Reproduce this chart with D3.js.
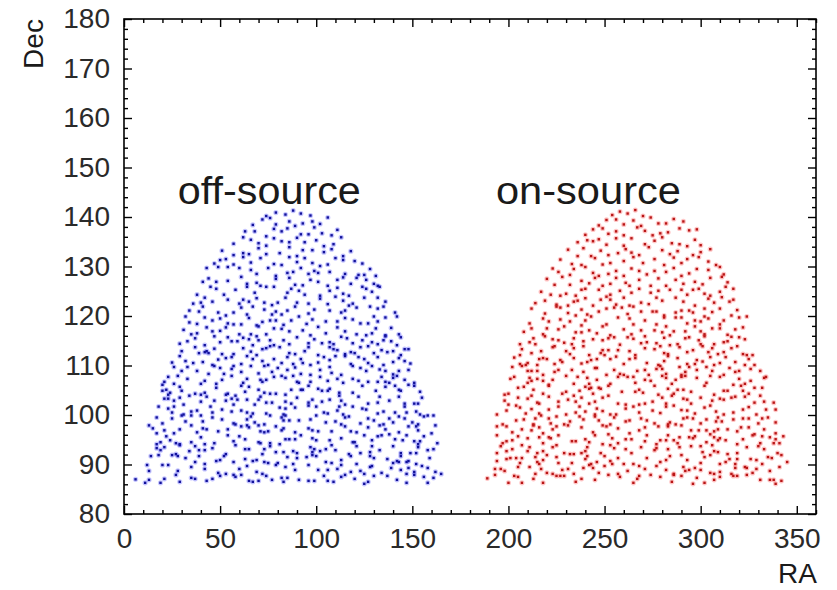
<!DOCTYPE html>
<html>
<head>
<meta charset="utf-8">
<script src="https://cdn.jsdelivr.net/npm/d3@7/dist/d3.min.js"></script>
<style>
  body { margin: 0; background: #fff; }
  text { font-family: "Liberation Sans", Arial, Helvetica, sans-serif; }
</style>
</head>
<body>
<svg id="svg" width="837" height="590"></svg>
<script>
// event positions as "RA,Dec" pairs, one line per 2 deg strip of Dec
var offSource = `
6,87.0 11,86.3 13,86.9 19,86.3 21,87.1 27,87.9 29,86.5 35,87.3 37,87.1 43,86.7 46,87.1 50,87.7 57,87.9 58,87.5 61,87.9 65,86.7 67,86.5 70,86.7 74,87.7 77,86.9 82,87.3 83,86.5 85,87.3 91,86.9 96,86.7 99,86.7 104,87.7 106,86.7 109,86.5 113,87.5 115,87.9 120,87.1 125,86.1 127,86.5 130,87.7 137,87.7 142,86.9 147,86.3 151,87.9 156,87.5 158,86.3 161,87.3
12,89.9 13,88.7 20,89.9 23,89.9 28,88.7 35,89.5 42,89.1 49,88.3 53,88.1 60,89.1 64,89.7 69,88.5 72,88.1 79,89.9 84,89.5 89,88.9 96,89.9 101,88.9 106,88.9 111,89.1 113,89.9 118,88.5 123,88.7 125,88.1 128,89.5 129,89.7 134,88.3 139,89.3 144,88.9 147,88.1 148,89.3 151,88.5 155,89.7 158,89.3 162,88.5 165,88.1
14,91.7 18,91.9 25,91.9 28,91.7 32,91.3 37,90.5 39,91.7 42,90.1 48,90.7 50,90.9 52,91.7 57,90.5 63,91.1 67,90.7 69,90.9 73,90.5 75,90.3 80,90.3 85,91.5 88,90.1 90,91.3 95,91.5 98,91.9 100,91.7 105,90.5 108,90.3 113,90.9 118,91.7 121,90.1 128,91.7 130,91.3 137,91.1 140,90.3 142,90.7 143,90.5 144,91.7 147,90.5 148,90.7 152,90.1 159,91.3
17,93.3 19,92.9 21,93.5 27,92.1 29,93.9 34,92.7 37,93.7 39,92.9 42,92.9 46,93.3 53,92.1 58,93.9 63,93.1 65,93.1 72,92.1 73,93.1 76,93.7 79,92.5 83,92.5 88,92.7 90,92.3 97,93.5 98,92.5 99,93.1 102,92.7 105,93.1 108,93.9 110,92.9 117,92.1 121,93.7 123,92.3 128,92.5 129,93.7 133,92.9 140,93.7 144,92.3 149,92.3 152,92.3 153,93.5 158,92.9 161,93.1
17,94.1 19,94.5 22,95.7 24,94.9 27,94.3 29,94.1 35,94.5 40,95.5 42,94.1 47,94.3 54,95.9 57,94.7 60,95.7 63,95.1 70,94.5 71,94.3 76,94.3 81,94.1 84,95.1 86,95.1 89,95.1 92,95.9 98,95.3 100,94.9 107,94.9 113,95.3 119,94.5 120,94.5 125,95.9 129,94.9 132,95.7 134,95.9 141,95.1 145,94.9 147,95.9 151,94.7 153,94.1 154,94.7 156,95.7 163,94.3
13,97.9 15,97.3 17,96.3 21,96.9 26,96.3 29,97.1 35,97.9 38,96.5 41,97.3 43,97.1 49,96.7 54,97.1 61,97.7 64,97.9 65,97.5 70,97.9 71,96.7 73,96.5 75,96.7 79,97.7 82,96.9 83,97.3 89,96.5 96,97.3 98,96.9 101,96.7 108,96.7 115,97.7 118,96.7 121,96.5 127,97.5 133,97.9 136,97.1 138,96.1 143,96.5 148,97.7 152,97.7 153,96.9 160,96.3 162,97.9
17,99.5 20,98.3 25,99.3 30,99.9 32,98.7 35,99.9 40,99.9 41,98.7 46,99.5 51,99.1 57,98.3 58,98.1 64,99.1 66,99.7 68,98.5 73,98.1 76,99.9 82,99.5 83,98.9 84,99.9 86,98.9 91,98.9 97,99.1 100,99.9 105,98.5 110,98.7 113,98.1 115,99.5 117,99.7 123,98.3 127,99.3 130,98.9 135,98.1 138,99.3 140,98.5 143,99.7 146,99.3 150,98.5 153,98.1 156,99.7 158,99.9 161,99.9
18,101.7 23,101.3 25,100.5 26,101.7 31,100.1 35,100.7 38,100.9 45,101.7 46,100.5 51,101.1 56,100.7 61,100.9 64,100.5 67,100.3 74,100.3 81,101.5 83,100.1 84,101.3 89,101.5 96,101.9 100,101.7 104,100.5 106,100.3 111,100.9 112,101.7 114,100.1 119,101.7 124,101.3 126,101.1 132,100.3 135,100.7 141,100.5 146,101.7 147,100.5 152,100.7 154,100.1
21,103.3 23,103.3 26,102.9 29,103.5 31,102.1 34,103.9 40,102.7 43,103.7 47,102.9 53,102.9 56,103.3 57,102.1 58,103.9 59,103.1 64,103.1 68,102.1 70,103.1 71,103.7 74,102.5 77,102.5 84,102.7 87,102.3 90,103.5 96,102.5 98,103.1 103,102.7 107,103.1 112,103.9 113,102.9 115,102.1 122,103.7 127,102.3 132,102.5 133,103.7 138,102.9 143,103.7 146,102.3 151,102.3 153,102.3 155,103.5
20,104.9 22,105.1 23,104.1 24,104.5 29,105.7 30,104.9 37,104.3 40,104.1 42,104.5 48,105.5 53,104.1 54,104.3 61,105.9 63,104.7 65,105.7 70,105.1 73,104.5 76,104.3 79,104.3 84,104.1 87,105.1 92,105.1 93,105.1 96,105.9 101,105.3 103,104.9 106,104.9 107,105.3 112,104.5 119,104.5 124,105.9 131,104.9 136,105.7 141,105.9 143,105.1 144,104.9 151,105.9 154,104.7
20,106.1 21,106.7 23,107.7 26,106.3 28,107.9 33,107.3 40,106.3 42,106.9 48,106.3 51,107.1 56,107.9 62,106.5 64,107.3 71,107.1 72,106.7 74,107.1 78,107.7 82,107.9 84,107.5 88,107.9 90,106.7 91,106.5 97,106.7 102,107.7 106,106.9 111,107.3 114,106.5 119,107.3 122,106.9 127,106.7 132,106.7 134,107.7 136,106.7 138,106.5 140,107.5 142,107.9 146,107.1 148,106.1 151,106.5
26,109.7 30,108.9 33,109.7 38,108.9 44,108.3 47,109.9 50,109.5 52,108.3 56,109.3 57,109.9 61,108.7 66,109.9 70,108.4 73,109.9 77,108.7 80,109.5 85,109.1 89,109.6 92,108.3 97,108.1 102,109.1 107,109.7 108,108.5 113,108.1 119,109.9 123,109.5 126,108.9 129,109.9 133,109.2 136,108.9 140,108.2 143,108.9 148,109.1
25,110.6 29,111.9 32,110.9 36,110.5 41,110.7 46,110.1 49,111.2 53,111.5 56,111.7 61,110.3 64,111.9 67,111.3 72,110.9 75,110.1 78,111.3 82,110.5 85,111.7 88,110.3 92,111.3 93,110.5 97,110.1 101,110.6 104,111.7 107,111.1 110,111.9 115,111.9 118,110.3 122,111.7 125,111.3 127,110.5 132,111.7 135,110.1 140,110.7 143,111.5 146,110.9 149,110.4
30,112.9 37,113.7 39,112.5 42,112.7 43,112.9 44,112.5 47,113.4 51,112.3 57,112.3 62,113.5 66,112.8 69,112.1 72,113.3 74,113.5 76,113.9 81,113.7 86,112.5 89,112.3 94,112.9 96,113.7 101,112.1 107,113.7 109,113.3 111,113.1 115,112.3 118,112.7 120,112.5 123,113.7 127,113.9 130,112.5 134,113.1 137,112.7 140,112.9 144,112.1 146,113.3 148,113.3
29,114.4 33,114.9 37,115.5 42,114.1 47,115.9 50,114.7 54,115.7 56,114.9 59,114.9 62,115.6 65,115.3 67,114.1 69,115.9 70,115.1 76,115.1 78,114.1 83,115.1 86,114.3 90,115.7 96,114.5 99,115.3 103,114.5 107,114.7 109,114.3 113,115.8 116,115.5 119,114.5 124,115.1 129,114.7 132,114.3 135,115.1 136,115.9 139,114.9 142,114.1 144,115.7
31,117.2 35,116.3 38,116.5 43,117.7 46,116.9 50,117.0 53,117.7 60,116.3 66,116.3 70,117.9 74,116.3 78,117.5 82,117.4 86,116.9 93,117.1 97,116.1 101,117.8 105,116.5 111,117.7 115,116.9 121,116.3 126,116.1 129,116.5 131,117.5 136,116.1 139,117.6 143,116.3
32,119.9 34,118.7 38,118.4 42,119.7 46,119.1 50,119.5 54,118.5 57,118.3 61,118.3 65,119.6 69,118.1 72,118.8 76,119.1 79,119.1 83,118.2 87,119.1 91,119.9 95,118.4 98,119.3 105,118.9 111,118.9 115,119.6 119,119.3 123,118.5 127,118.5 130,119.9 132,118.9 136,119.7 142,119.9
34,121.1 39,120.9 41,121.9 49,120.7 53,120.1 57,120.7 61,121.7 64,120.3 67,121.9 73,121.3 77,120.3 79,120.9 82,120.3 85,121.1 89,121.9 96,120.5 99,121.3 107,121.1 113,120.7 115,121.1 121,121.7 128,121.9 132,121.5 135,121.9 141,120.7
36,122.5 40,122.7 42,123.7 46,122.9 54,123.3 60,122.5 62,123.3 65,122.9 69,123.6 73,122.7 77,122.2 80,122.7 84,123.7 90,122.7 96,122.5 102,123.5 106,122.4 110,123.9 114,123.1 117,122.1 119,122.5 125,123.7 132,123.7 136,122.9
38,124.3 45,125.9 48,125.5 52,124.3 58,125.3 64,125.9 68,124.7 74,125.9 78,125.9 85,124.7 87,125.5 91,125.1 94,124.3 102,124.1 107,125.1 111,125.7 114,124.5 117,124.1 124,125.9 126,125.5 129,124.9 133,125.9
41,126.9 44,127.6 48,126.9 54,127.1 61,127.9 64,126.5 69,126.7 71,126.1 79,127.5 86,127.7 89,126.3 93,126.2 97,127.3 101,126.9 106,126.1 111,127.3 114,127.8 118,126.5 121,127.7 126,127.3 130,126.5 132,126.1
43,129.7 49,129.9 54,129.9 60,129.7 66,129.3 69,128.5 75,129.7 79,128.1 85,128.7 88,128.9 92,129.7 96,128.5 99,129.1 101,128.7 107,128.9 115,128.5 122,128.3 125,128.3 128,129.5 131,128.1
47,130.6 50,131.3 53,131.5 57,130.4 62,131.9 66,130.8 71,131.7 78,130.5 82,130.3 86,131.9 90,130.9 94,131.7 98,130.7 102,130.1 106,130.4 110,131.7 114,131.3 120,131.1 124,130.6
51,133.2 57,132.3 62,132.7 65,132.5 70,133.7 74,132.5 81,132.7 86,133.9 90,132.1 93,133.3 98,133.3 104,132.9 108,133.5 114,132.1 118,133.1
57,134.6 62,135.9 66,135.4 70,134.7 74,134.2 78,135.7 82,135.1 86,134.9 90,135.8 94,134.9 100,135.3 104,134.1 109,134.5 113,135.9
63,137.1 68,137.1 74,136.1 78,137.6 82,137.1 85,137.7 92,136.5 96,136.5 99,137.9 103,136.7 108,136.3 111,137.4
67,138.4 72,139.5 76,139.8 79,138.5 86,139.1 89,138.2 93,138.7 98,139.1 102,138.6 106,139.9
74,140.2 79,140.9 84,140.5 88,141.3 92,140.7 97,140.3
`;

var onSource = `
189,87.2 193,87.9 200,86.3 203,87.7 205,87.5 207,86.3 213,87.1 218,86.3 225,87.7 227,87.7 229,87.7 235,86.5 238,87.1 245,86.9 252,87.9 258,87.5 265,86.3 267,87.1 268,87.7 274,87.9 279,87.5 285,86.5 286,87.9 290,87.7 296,86.1 298,87.3 302,86.3 307,86.9 310,87.5 317,87.7 319,87.7 324,87.9 331,86.9 336,86.9 338,86.9 339,86.1 342,86.7
193,89.1 196,89.1 198,88.7 205,89.5 211,89.5 214,88.1 217,89.1 220,88.3 223,88.1 228,88.9 231,89.1 234,88.1 239,89.3 242,89.9 244,89.3 247,88.3 250,89.7 257,88.1 262,88.7 268,89.7 271,89.1 277,89.7 282,88.9 286,88.1 291,89.5 292,88.7 294,88.9 297,89.3 300,88.9 305,88.3 307,88.1 310,88.5 316,88.1 318,89.3 323,89.5 324,89.3 327,88.3 329,89.1 336,88.7 341,89.5
194,90.7 199,91.1 201,91.3 204,91.3 206,90.3 207,91.3 214,91.5 215,90.5 216,90.1 218,90.9 220,91.9 225,91.5 226,90.3 233,90.3 240,91.1 241,91.7 243,90.1 246,90.5 250,91.7 253,90.7 254,90.1 257,91.3 260,90.1 265,90.1 272,91.3 279,90.5 282,90.9 284,91.7 290,91.9 293,90.9 300,90.3 302,91.5 305,91.9 310,90.1 313,90.5 315,91.1 318,90.1 319,91.1 326,91.1 329,90.9 332,90.1 335,91.5 337,91.3 342,91.9 345,90.5
194,92.3 196,93.7 199,92.7 202,93.1 207,93.9 210,92.7 211,93.5 215,92.3 218,92.7 223,93.5 225,93.9 229,92.3 232,92.1 234,92.1 238,92.3 240,92.7 241,93.5 248,92.3 253,93.9 255,93.3 261,93.1 264,92.3 269,93.5 276,92.9 277,93.3 283,93.1 289,93.5 295,93.7 300,93.7 301,92.5 306,93.9 307,92.7 309,92.5 314,92.1 319,92.3 324,93.5 330,93.7 333,93.1 340,92.3
194,95.9 197,94.3 199,94.7 202,94.9 205,95.7 210,95.3 216,95.5 218,94.3 221,95.5 222,95.3 226,95.9 233,94.7 235,94.7 240,95.1 242,94.5 245,95.9 249,94.1 254,95.3 257,94.3 261,95.1 264,95.1 271,94.7 272,95.9 277,94.1 279,94.9 282,94.9 283,95.9 286,94.9 288,94.3 289,95.5 294,95.5 296,95.3 297,95.7 303,94.5 307,95.5 309,94.9 310,95.3 313,94.9 319,94.1 322,95.1 327,95.9 331,94.3 332,95.7 336,95.5 338,94.3 339,95.1 341,94.3 343,95.7
194,97.7 199,97.7 202,96.5 207,97.1 212,96.9 213,97.9 216,97.5 218,96.3 223,97.1 225,97.7 231,97.9 238,97.5 244,96.5 249,97.9 251,97.7 252,96.1 257,97.3 263,96.3 268,96.9 271,97.5 278,97.7 283,97.7 290,97.9 295,96.9 299,96.9 303,96.9 305,96.1 307,96.7 309,97.1 314,97.1 319,96.7 321,97.5 325,97.5 328,96.1 333,97.1 339,96.3
197,98.1 204,98.9 208,99.1 213,98.1 214,99.3 217,99.9 221,99.3 222,98.3 225,99.7 229,98.1 232,98.7 237,99.7 239,99.1 245,99.7 247,98.9 253,98.1 255,99.5 261,98.7 263,98.9 269,99.3 272,98.9 276,98.3 283,98.1 284,98.5 287,98.1 291,99.3 293,99.5 296,99.3 300,98.3 303,99.1 308,98.7 309,99.5 311,98.7 317,99.1 322,99.3 325,99.3 330,98.3 332,99.3 335,99.5 339,98.5
194,100.1 199,100.9 204,101.9 206,101.5 209,100.3 212,101.2 216,100.3 221,101.1 226,101.7 230,100.1 235,100.5 237,101.7 240,100.7 245,100.1 246,101.3 249,100.8 253,100.1 256,100.1 261,101.3 265,101.7 268,100.5 275,100.9 279,100.4 282,101.7 286,101.9 290,101.0 293,100.9 297,100.3 302,101.5 305,101.9 308,100.7 312,100.1 317,100.5 322,101.1 325,101.6 329,100.1 334,101.1 339,101.1
198,102.9 200,102.1 205,103.5 210,103.3 212,103.9 215,102.5 216,102.3 221,103.7 226,102.7 231,103.1 234,103.9 235,102.7 238,103.5 242,102.3 245,102.7 249,103.5 252,103.9 257,102.3 261,102.1 268,102.1 271,102.3 275,102.7 280,103.5 282,102.3 285,103.9 291,103.3 293,103.1 295,102.3 300,103.5 306,102.9 310,103.3 312,103.1 316,103.5 318,103.7 323,103.7 328,102.5 331,103.9 333,102.7 338,102.5
198,104.1 200,104.3 205,105.5 208,105.7 213,105.1 218,104.3 221,105.9 228,104.3 230,104.7 237,104.9 240,105.7 242,105.3 243,105.5 244,104.3 247,105.5 248,105.3 252,105.9 259,104.7 266,104.7 268,105.1 270,104.5 276,105.9 278,104.1 283,105.3 286,104.3 288,105.1 291,105.1 295,104.7 302,105.9 307,104.1 312,104.9 314,104.9 321,105.9 322,104.9 325,104.3 328,105.5 332,105.5
201,107.3 203,107.7 210,106.5 211,107.5 212,106.9 215,107.3 218,106.9 221,106.1 223,107.1 230,107.9 234,106.3 236,107.7 241,107.5 242,106.3 246,107.1 253,106.3 257,107.7 262,107.7 265,107.7 266,106.5 271,107.1 274,106.9 280,107.9 282,107.5 285,106.3 287,107.1 290,107.7 292,107.9 298,107.5 303,106.5 305,107.9 310,107.7 317,106.1 320,107.3 323,106.3 326,106.9 333,107.5 334,107.7
202,109.7 207,109.9 210,108.9 212,108.9 215,108.9 218,108.1 224,108.7 226,109.1 233,109.1 239,108.7 245,109.5 246,109.5 251,108.1 255,109.1 258,108.3 260,108.1 267,108.9 271,109.1 273,108.1 277,109.3 279,109.9 280,109.3 282,108.3 289,109.7 290,108.1 292,108.7 294,109.7 298,109.1 303,109.7 306,108.9 312,108.1 315,109.5 318,108.7 320,108.9 326,109.3 331,108.9
203,111.6 206,110.3 209,110.1 210,110.5 215,110.1 216,111.3 218,111.5 220,111.3 224,110.3 227,111.1 228,110.7 234,111.5 238,110.4 241,110.7 243,111.1 246,111.3 253,111.3 256,111.8 260,110.3 263,111.3 266,111.5 272,110.5 278,110.1 281,110.9 283,111.9 288,111.5 293,110.3 297,110.3 298,111.1 301,110.8 305,111.7 307,110.1 310,110.5 313,111.7 318,110.7 323,110.1 325,111.3 328,110.1
206,112.1 207,113.3 212,112.5 217,112.9 223,113.7 224,113.9 230,112.9 232,112.3 234,113.5 239,113.9 242,112.1 248,112.5 249,113.1 250,112.1 252,113.1 257,113.1 263,112.9 266,112.1 271,113.5 276,113.3 279,113.9 281,112.5 283,112.3 289,113.7 293,112.7 296,113.1 301,113.9 304,112.7 306,113.5 309,112.3 312,112.7 316,113.5 319,113.9 322,112.3 324,112.1 327,112.1
206,114.3 211,114.7 213,115.5 214,114.3 219,115.9 223,115.3 226,115.1 229,114.6 233,114.3 234,115.5 239,114.9 244,115.3 249,115.1 252,115.5 255,115.7 258,114.2 262,115.7 265,115.4 269,114.5 271,115.9 272,114.7 277,114.5 281,115.6 284,114.1 288,114.3 292,115.5 294,115.7 299,115.1 300,114.3 302,115.9 307,114.3 312,114.7 314,114.9 316,115.8 320,115.7 323,115.3
208,116.8 212,117.5 218,116.3 220,117.5 226,117.3 229,117.9 235,116.7 238,116.7 242,117.1 246,116.5 249,117.9 253,116.1 260,117.3 264,116.3 269,117.1 276,117.1 280,116.7 282,117.9 284,116.1 286,116.9 292,116.9 297,117.9 300,116.9 302,116.3 306,117.5 310,117.5 314,116.2 318,117.3 322,117.7
211,118.5 218,119.5 221,118.9 227,119.3 232,118.9 238,118.1 240,119.1 243,119.9 251,118.3 257,119.7 263,119.5 265,118.3 271,119.1 277,118.3 281,119.7 287,119.7 290,119.7 293,118.5 297,119.1 300,118.9 302,119.9 304,119.5 310,118.3 312,119.1 320,119.7 324,119.9
212,121.5 219,120.5 225,121.9 227,121.7 231,120.6 235,120.1 238,121.3 241,120.3 247,120.9 251,121.5 255,121.7 259,121.7 262,120.4 265,121.9 269,120.9 275,120.9 277,120.9 281,120.1 287,120.7 290,121.1 294,121.1 296,120.7 302,121.5 306,120.8 310,121.5 316,120.1 319,121.2
214,122.6 219,123.1 225,122.3 231,122.1 234,122.9 236,123.1 240,123.6 244,122.1 248,123.3 251,123.9 253,123.3 256,122.3 260,123.7 263,122.1 269,122.7 273,122.4 277,123.7 280,123.1 287,123.7 291,122.9 297,122.1 304,123.5 307,122.7 311,123.8 315,122.9 317,123.3
217,124.9 222,124.3 227,124.1 230,124.5 235,124.1 238,125.3 240,125.5 247,125.3 253,124.3 258,125.1 264,124.7 268,125.5 274,124.7 278,125.1 284,125.3 290,125.3 293,124.3 296,125.3 299,125.5 302,124.5 305,124.1 310,124.9 313,125.9 317,125.5
220,127.5 224,126.3 228,127.9 232,126.3 238,127.1 242,126.6 245,127.7 249,126.1 253,126.5 256,127.7 261,126.7 263,126.1 268,127.3 274,126.1 278,127.6 282,126.1 287,127.3 291,126.5 297,126.9 301,126.4 305,127.7 311,127.9 314,126.8
223,129.6 226,128.9 232,128.3 234,129.5 240,129.9 244,128.7 247,128.1 252,128.5 256,129.1 260,128.1 264,129.6 268,129.1 272,128.4 276,129.1 282,128.9 286,129.7 290,128.1 294,128.6 298,129.5 304,129.3 310,129.9 312,128.4
227,131.4 233,130.5 238,130.3 245,131.7 249,130.4 253,130.7 260,131.1 265,131.9 270,130.7 276,131.5 281,130.3 286,131.8 290,130.7 293,131.5 299,131.9 304,131.0 308,130.3
231,133.4 236,132.1 239,133.7 243,132.1 248,133.2 252,132.3 257,132.7 261,133.5 264,132.8 268,132.3 273,133.9 280,133.3 284,132.5 288,133.1 296,132.3 300,132.9 305,133.5
236,134.9 241,135.3 244,135.1 247,135.5 251,134.4 256,135.7 260,134.2 264,135.7 271,134.5 276,135.2 280,135.9 285,134.7 289,134.5 293,134.1 297,135.4 300,134.3
240,136.4 244,137.5 249,137.7 252,136.6 256,137.1 260,136.3 267,137.9 271,137.2 275,136.3 279,136.7 283,136.9 289,137.7 294,137.3 298,137.5
247,138.3 251,139.4 256,139.5 260,138.5 265,139.3 269,138.2 274,139.9 278,138.7 282,138.7 286,139.6 291,139.1
254,140.4 258,141.1 262,140.7 266,141.4 270,140.2
`;

var raTicks = [0, 50, 100, 150, 200, 250, 300, 350];
var decTicks = [80, 90, 100, 110, 120, 130, 140, 150, 160, 170, 180];
var sampleNames = ["off-source", "on-source"];
var dotColors = ["#12129a", "#b81616"];
var haloColors = ["#4a4aff", "#ff5050"];

function parsePairs(str) {
  return str.trim().split(/\s+/).map(function (s) {
    var p = s.split(",");
    return { ra: +p[0], dec: +p[1] };
  });
}

var samples = [parsePairs(offSource), parsePairs(onSource)];

var svg = d3.select("#svg"),
  margin = { top: 19, right: 21, bottom: 76, left: 124 },
  width = +svg.attr("width") - margin.left - margin.right,
  height = +svg.attr("height") - margin.top - margin.bottom;

var g = svg.append("g").attr("transform", "translate(" + margin.left + "," + margin.top + ")");

var x = d3.scaleLinear().domain([0, 360]).range([0, width]);
var y = d3.scaleLinear().domain([80, 180]).range([height, 0]);

var raMinor = d3.range(0, 361, 10).filter(function (v) { return v % 50 != 0; });
var decMinor = d3.range(80, 181, 2).filter(function (v) { return v % 10 != 0; });

// soft halo under each marker, then the marker itself
samples.forEach(function (pts, i) {
  var layer = g.append("g");
  layer.selectAll("circle")
    .data(pts)
    .enter().append("circle")
    .attr("cx", function (d) { return x(d.ra); })
    .attr("cy", function (d) { return y(d.dec); })
    .attr("r", 2.6)
    .attr("fill", haloColors[i])
    .attr("fill-opacity", 0.32);
  layer.selectAll("rect")
    .data(pts)
    .enter().append("rect")
    .attr("x", function (d) { return x(d.ra) - 1.2; })
    .attr("y", function (d) { return y(d.dec) - 1.2; })
    .attr("width", 2.4)
    .attr("height", 2.4)
    .attr("fill", dotColors[i]);
});

// ticks point inward on all four sides
function addAxis(axis, tx, ty, labels) {
  var a = g.append("g").attr("transform", "translate(" + tx + "," + ty + ")").call(axis);
  a.select(".domain").remove();
  a.selectAll("line").attr("stroke", "#000").attr("stroke-width", 1.4);
  if (!labels) a.selectAll("text").remove();
  return a;
}

var bottomAxis = addAxis(d3.axisBottom(x).tickValues(raTicks).tickSize(-8).tickPadding(14), 0, height, true);
addAxis(d3.axisBottom(x).tickValues(raMinor).tickSize(-4).tickFormat(""), 0, height, false);
addAxis(d3.axisTop(x).tickValues(raTicks).tickSize(-8).tickFormat(""), 0, 0, false);
addAxis(d3.axisTop(x).tickValues(raMinor).tickSize(-4).tickFormat(""), 0, 0, false);

var leftAxis = addAxis(d3.axisLeft(y).tickValues(decTicks).tickSize(-8).tickPadding(14), 0, 0, true);
addAxis(d3.axisLeft(y).tickValues(decMinor).tickSize(-4).tickFormat(""), 0, 0, false);
addAxis(d3.axisRight(y).tickValues(decTicks).tickSize(-8).tickFormat(""), width, 0, false);
addAxis(d3.axisRight(y).tickValues(decMinor).tickSize(-4).tickFormat(""), width, 0, false);

[bottomAxis, leftAxis].forEach(function (a) {
  a.selectAll("text").attr("font-size", 28).attr("fill", "#2a2a2a")
    .style("font-family", "'Liberation Sans', Arial, sans-serif");
});

g.append("rect")
  .attr("width", width)
  .attr("height", height)
  .attr("fill", "none")
  .attr("stroke", "#000")
  .attr("stroke-width", 1.6);

// sample names above each cloud
g.append("text").attr("x", x(28)).attr("y", y(142.6))
  .attr("font-size", 38).attr("fill", "#1a1a1a")
  .attr("textLength", 183).attr("lengthAdjust", "spacingAndGlyphs")
  .text(sampleNames[0]);
g.append("text").attr("x", x(193.5)).attr("y", y(142.6))
  .attr("font-size", 38).attr("fill", "#1a1a1a")
  .attr("textLength", 185).attr("lengthAdjust", "spacingAndGlyphs")
  .text(sampleNames[1]);

// axis titles
svg.append("text")
  .attr("transform", "translate(43,44) rotate(-90)")
  .attr("text-anchor", "middle")
  .attr("font-size", 28).attr("fill", "#1a1a1a")
  .text("Dec");
svg.append("text")
  .attr("x", 817).attr("y", 583)
  .attr("text-anchor", "end")
  .attr("font-size", 28).attr("fill", "#1a1a1a")
  .text("RA");
</script>
</body>
</html>
